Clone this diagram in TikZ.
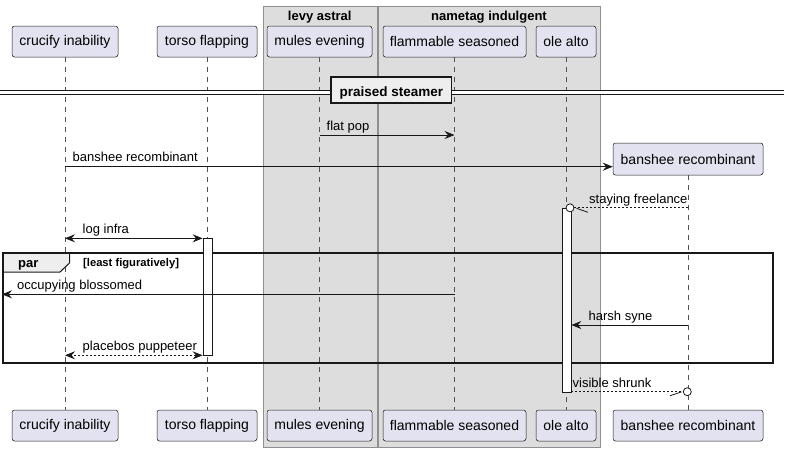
\documentclass[tikz,border=0pt]{standalone}
\usepackage{fontspec}
\setmainfont{Liberation Sans}
\usetikzlibrary{arrows.meta}
\definecolor{partfill}{HTML}{E2E2F0}
\definecolor{partline}{HTML}{181818}
\definecolor{boxfill}{HTML}{DDDDDD}
\definecolor{boxline}{HTML}{8F8F8F}
\definecolor{tabfill}{HTML}{EEEEEE}
\tikzset{
  part/.style={draw=partline, fill=partfill, rounded corners=2.5pt, line width=0.5pt,
    minimum height=31pt, inner sep=0pt, font=\fontsize{14}{16}\selectfont},
  grp/.style={draw=boxline, fill=boxfill, line width=0.8pt, inner sep=0pt, anchor=north west},
  grptitle/.style={font=\bfseries\fontsize{13}{15}\selectfont, anchor=base, inner sep=0pt},
  life/.style={draw=partline!75, dash pattern=on 5pt off 5pt, line width=0.5pt},
  actbar/.style={draw=partline, fill=white, line width=0.8pt, inner sep=0pt, minimum width=9pt},
  tipA/.tip={Stealth[length=10pt,width=8pt,inset=3.5pt]},
  msg/.style={draw=partline, line width=0.8pt, -tipA},
  dmsg/.style={draw=partline, line width=0.8pt, tipA-tipA},
  dotmsg/.style={draw=partline, line width=0.8pt, dash pattern=on 2pt off 2pt},
  lbl/.style={font=\fontsize{13}{15}\selectfont, anchor=base west, inner sep=0pt},
  circ/.style={circle, draw=partline, fill=white, line width=0.8pt, minimum size=8pt, inner sep=0pt},
}
\begin{document}
\begin{tikzpicture}[x=1pt,y=-1pt]
\useasboundingbox (0,0) rectangle (789,451);
% group boxes
\node[grp, minimum width=113.5pt, minimum height=441pt] (gLevy) at (263,6) {};
\node[grp, minimum width=222pt, minimum height=441pt] (gName) at (378,6) {};
\node[grptitle] (tLevy) at (319.75,20) {levy astral};
\node[grptitle] (tName) at (489,20) {nametag indulgent};
% participants top
\node[part, minimum width=106pt] (ci) at (65,41.5) {crucify inability};
\node[part, minimum width=100pt] (tf) at (207,41.5) {torso flapping};
\node[part, minimum width=105pt] (me) at (319.5,41.5) {mules evening};
\node[part, minimum width=143pt] (fs) at (454.5,41.5) {flammable seasoned};
\node[part, minimum width=60pt] (oa) at (566,41.5) {ole alto};
\node[part, minimum width=150pt, minimum height=32pt] (br) at (688,159) {banshee recombinant};
% participants bottom
\node[part, minimum width=106pt] (ciB) at (65,425.5) {crucify inability};
\node[part, minimum width=100pt] (tfB) at (207,425.5) {torso flapping};
\node[part, minimum width=105pt] (meB) at (319.5,425.5) {mules evening};
\node[part, minimum width=143pt] (fsB) at (454.5,425.5) {flammable seasoned};
\node[part, minimum width=60pt] (oaB) at (566,425.5) {ole alto};
\node[part, minimum width=150pt] (brB) at (688,425.5) {banshee recombinant};
% lifelines
\draw[life] (ci.south) -- (ciB.north);
\draw[life] (tf.south) -- (tfB.north);
\draw[life] (me.south) -- (meB.north);
\draw[life] (fs.south) -- (fsB.north);
\draw[life] (oa.south) -- (oaB.north);
\draw[life] (br.south) -- (brB.north);
% divider
\fill[white] (0,90) rectangle (784,94);
\draw[partline, line width=0.8pt] (0,90) -- (784,90);
\draw[partline, line width=0.8pt] (0,94) -- (784,94);
\node[draw=partline, fill=tabfill, line width=1.6pt, minimum width=120.5pt, minimum height=26pt,
  inner sep=0pt] (div) at (391.4,90) {};
\node[font=\bfseries\fontsize{13.5}{15}\selectfont, anchor=base, inner sep=0pt] (divt) at (391.4,96) {praised steamer};
% par frame
\draw[partline, fill=tabfill, line width=1pt] (3,253) -- (69.5,253) -- (69.5,263) -- (60,272) -- (3,272) -- cycle;
\draw[partline, line width=1.5pt] (3,253) rectangle (773,363);
\node[font=\bfseries\fontsize{13}{15}\selectfont, anchor=base west, inner sep=0pt] (parl) at (18,267.3) {par};
\node[font=\bfseries\fontsize{11.2}{13}\selectfont, anchor=base west, inner sep=0pt] (parc) at (83,266.7) {[least figuratively]};
% activation bars
\node[actbar, minimum height=117pt] (actTF) at (207.5,296.7) {};
\node[actbar, minimum height=184pt] (actOA) at (566.5,300.3) {};
% row coordinates
\coordinate (r1) at (0,135);
\coordinate (r2) at (0,166.7);
\coordinate (r4) at (0,238.3);
\coordinate (lefte) at (2,294.3);
\coordinate (r6) at (0,325);
\coordinate (r7) at (0,355.3);
% messages
\draw[msg] (me |- r1) -- (fs |- r1);
\node[lbl] (l1) at (326.5,130.5) {flat pop};
\draw[msg] (ci |- r2) -- (br.west |- r2);
\node[lbl] (l2) at (72.5,161) {banshee recombinant};
\node[circ] (c1) at (570,207.8) {};
\draw[dotmsg] (br |- c1) -- (c1.east);
\draw[partline, line width=0.8pt] (576.5,208.3) -- (588,212.3);
\node[lbl] (l3) at (589,203.5) {staying freelance};
\draw[dmsg] (ci |- r4) -- (actTF.west |- r4);
\node[lbl] (l4) at (82.5,233.5) {log infra};
\draw[msg] (fs |- lefte) -- (lefte);
\node[lbl] (l5) at (17,289.5) {occupying blossomed};
\draw[msg] (br |- r6) -- (actOA.east |- r6);
\node[lbl] (l6) at (588.5,320) {harsh syne};
\draw[dotmsg, tipA-tipA] (actTF.west |- r7) -- (ci |- r7);
\node[lbl] (l7) at (82.5,350.5) {placebos puppeteer};
\node[circ] (c2) at (687.3,391.7) {};
\draw[dotmsg] (actOA.east |- c2) -- (c2.west);
\draw[partline, line width=0.8pt] (670,395.7) -- (681.5,391.9);
\node[lbl] (l8) at (572.5,387.5) {visible shrunk};
\end{tikzpicture}
\end{document}
